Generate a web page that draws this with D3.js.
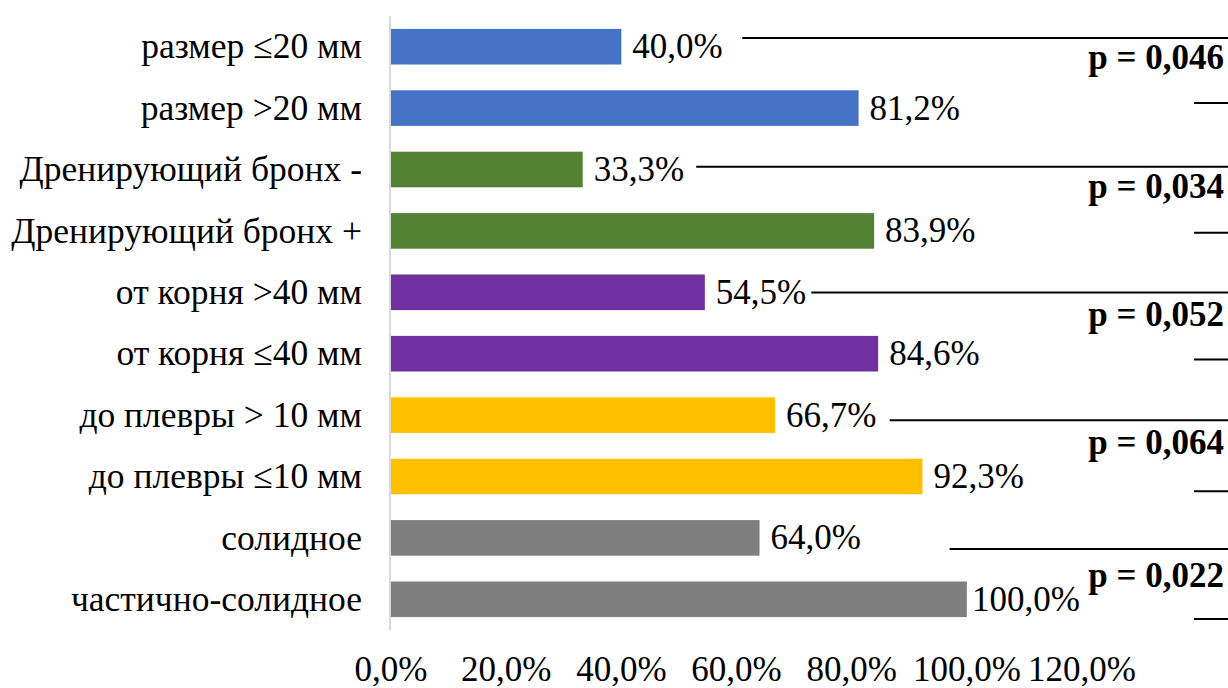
<!DOCTYPE html>
<html>
<head>
<meta charset="utf-8">
<script src="https://cdn.jsdelivr.net/npm/d3@7"></script>
<style>
  html, body { margin: 0; padding: 0; background: #fff; }
  svg { display: block; }
  text { font-family: "Liberation Serif", "Times New Roman", serif; fill: #000; }
</style>
</head>
<body>
<svg id="chart" width="1228" height="688"></svg>
<script>
// Categories, top to bottom
const categories = [
  "размер ≤20 мм",
  "размер >20 мм",
  "Дренирующий бронх -",
  "Дренирующий бронх +",
  "от корня >40 мм",
  "от корня ≤40 мм",
  "до плевры > 10 мм",
  "до плевры ≤10 мм",
  "солидное",
  "частично-солидное"
];
// Percentage for each category
const values = [40.0, 81.2, 33.3, 83.9, 54.5, 84.6, 66.7, 92.3, 64.0, 100.0];
// Group of each category (pairs compared with each other)
const groups = [0, 0, 1, 1, 2, 2, 3, 3, 4, 4];
const groupColors = ["#4472C4", "#548235", "#7030A0", "#FFC000", "#7F7F7F"];
// x-axis ticks
const ticks = [0, 20, 40, 60, 80, 100, 120];
// p-values for each pair
const pValues = ["p = 0,046", "p = 0,034", "p = 0,052", "p = 0,064", "p = 0,022"];

// Placement of the bracket annotations: start of the long rule (in axis units)
// and vertical offsets (px) from the top of the pair's first band
const bracketLayout = [
  { from: 61.0, top: 9,  text: 40, bottom: 74 },
  { from: 53.0, top: 15, text: 46, bottom: 81 },
  { from: 73.0, top: 18, text: 52, bottom: 85 },
  { from: 86.6, top: 23, text: 57, bottom: 94 },
  { from: 97.0, top: 29, text: 67, bottom: 99 }
];

const fmt = v => v.toFixed(1).replace(".", ",") + "%";

const svg = d3.select("#chart");
const W = 1228, H = 688;
svg.append("rect").attr("width", W).attr("height", H).attr("fill", "#fff");

const x = d3.scaleLinear().domain([0, 120]).range([391, 1082]);
const y = d3.scaleBand().domain(categories).range([16, 630])
  .paddingInner(0.42).paddingOuter(0.21);

const FS = 35;
const FS_CAT = 35.5;

// Bars
svg.append("g").selectAll("rect")
  .data(categories)
  .join("rect")
  .attr("x", x(0))
  .attr("y", d => y(d))
  .attr("width", (d, i) => x(values[i]) - x(0))
  .attr("height", y.bandwidth())
  .attr("fill", (d, i) => groupColors[groups[i]]);

// Vertical axis line
svg.append("line")
  .attr("x1", 390).attr("x2", 390)
  .attr("y1", 16).attr("y2", 630)
  .attr("stroke", "#d9d9d9").attr("stroke-width", 2);

// Category labels
svg.append("g").selectAll("text")
  .data(categories)
  .join("text")
  .attr("x", 362)
  .attr("y", d => y(d) + y.bandwidth() / 2)
  .attr("dy", "0.33em")
  .attr("text-anchor", "end")
  .attr("font-size", FS_CAT)
  .text(d => d);

// Value labels
svg.append("g").selectAll("text")
  .data(values)
  .join("text")
  .attr("x", v => x(v) + 11)
  .attr("y", (v, i) => y(categories[i]) + y.bandwidth() / 2)
  .attr("dy", "0.33em")
  .attr("font-size", FS)
  .text(fmt)
  .each(function(v) {
    // keep the label inside the plot area
    const w = this.getComputedTextLength();
    if (x(v) + 11 + w > 1080) d3.select(this).attr("x", Math.max(x(v) + 1, 1080 - w));
  });

// x-axis tick labels
svg.append("g").selectAll("text")
  .data(ticks)
  .join("text")
  .attr("x", t => x(t))
  .attr("y", 681)
  .attr("text-anchor", "middle")
  .attr("font-size", FS)
  .text(t => fmt(t));

// Significance brackets
const bracket = svg.append("g");
pValues.forEach((p, g) => {
  const first = categories[groups.indexOf(g)];
  const L = bracketLayout[g];
  const y0 = y(first);
  bracket.append("line")
    .attr("x1", x(L.from)).attr("x2", W)
    .attr("y1", y0 + L.top).attr("y2", y0 + L.top)
    .attr("stroke", "#000").attr("stroke-width", 2);
  bracket.append("text")
    .attr("x", 1224)
    .attr("y", y0 + L.text)
    .attr("text-anchor", "end")
    .attr("font-size", FS)
    .attr("font-weight", "bold")
    .text(p);
  bracket.append("line")
    .attr("x1", 1194).attr("x2", W)
    .attr("y1", y0 + L.bottom).attr("y2", y0 + L.bottom)
    .attr("stroke", "#000").attr("stroke-width", 2);
});
</script>
</body>
</html>
